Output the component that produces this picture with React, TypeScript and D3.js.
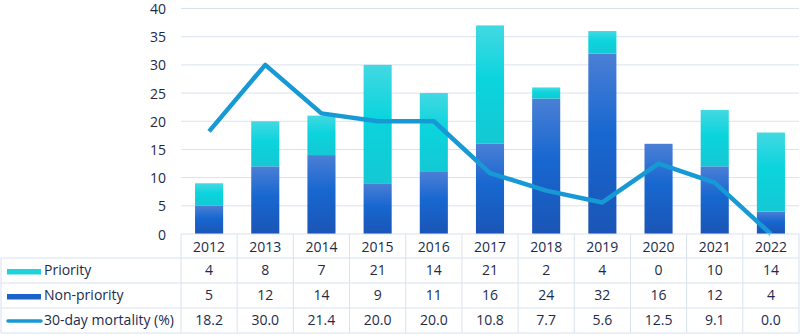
import React from "react";
import * as d3 from "d3";

// yearly case counts and mortality
const years = ["2012", "2013", "2014", "2015", "2016", "2017", "2018", "2019", "2020", "2021", "2022"];
const priority = [4, 8, 7, 21, 14, 21, 2, 4, 0, 10, 14];
const nonPriority = [5, 12, 14, 9, 11, 16, 24, 32, 16, 12, 4];
const mortality = [18.2, 30.0, 21.4, 20.0, 20.0, 10.8, 7.7, 5.6, 12.5, 9.1, 0.0];
const yTicks = [0, 5, 10, 15, 20, 25, 30, 35, 40];

const width = 800;
const height = 335;
const plotLeft = 181;
const plotRight = 799;
const plotTop = 8.5;
const plotBottom = 234;
const rowH = 25;
const headerBottom = 258;

const textColor = "#1c2b4c";
const gridColor = "#d8e2ef";
const lineColor = "#1799d6";
const font = "'Open Sans', sans-serif";
const fs = 14;

const App = () => {
  const x = d3.scaleBand().domain(years).range([plotLeft, plotRight]).paddingInner(0).paddingOuter(0);
  const y = d3.scaleLinear().domain([0, 40]).range([plotBottom, plotTop]);
  const barW = x.bandwidth() * 0.5;
  const cx = (yr: string) => (x(yr) as number) + x.bandwidth() / 2;

  const line = d3
    .line<number>()
    .x((_, i) => cx(years[i]))
    .y((d) => y(d));

  const rows = [
    { label: "Priority", values: priority.map(String), kind: "priority" },
    { label: "Non-priority", values: nonPriority.map(String), kind: "non" },
    { label: "30-day mortality (%)", values: mortality.map((d) => d.toFixed(1)), kind: "line" },
  ];
  const tableBottom = headerBottom + rows.length * rowH;

  return (
    <svg width={width} height={height} style={{ position: "absolute", left: 0, top: 0 }} fontFamily={font}>
      <defs>
        <linearGradient id="gNon" x1="0" y1="0" x2="0" y2="1">
          <stop offset="0%" stopColor="#4b7fd5" />
          <stop offset="45%" stopColor="#1767d0" />
          <stop offset="100%" stopColor="#1b55b6" />
        </linearGradient>
        <linearGradient id="gPri" x1="0" y1="0" x2="0" y2="1">
          <stop offset="0%" stopColor="#42d9e2" />
          <stop offset="45%" stopColor="#0bd4dd" />
          <stop offset="100%" stopColor="#14c8d3" />
        </linearGradient>
      </defs>

      {/* gridlines and y labels */}
      {yTicks.map((t) => (
        <g key={t}>
          {t > 0 && <line x1={plotLeft} x2={plotRight} y1={y(t)} y2={y(t)} stroke={gridColor} strokeWidth={1} />}
          <text x={166} y={y(t) + 1} dy="0.33em" textAnchor="end" fontSize={fs} fill={textColor}>
            {t}
          </text>
        </g>
      ))}

      {/* stacked bars */}
      {years.map((yr, i) => {
        const x0 = cx(yr) - barW / 2;
        const nTop = y(nonPriority[i]);
        const pTop = y(nonPriority[i] + priority[i]);
        return (
          <g key={yr}>
            <rect x={x0} y={nTop} width={barW} height={plotBottom - nTop} fill="url(#gNon)" />
            {priority[i] > 0 && <rect x={x0} y={pTop} width={barW} height={nTop - pTop} fill="url(#gPri)" />}
          </g>
        );
      })}

      <path d={line(mortality) || ""} fill="none" stroke={lineColor} strokeWidth={4.5} strokeLinejoin="round" />

      {/* data table */}
      <g stroke={gridColor} strokeWidth={1}>
        <line x1={plotLeft} x2={plotRight} y1={plotBottom} y2={plotBottom} />
        {[0, 1, 2, 3].map((r) => (
          <line key={r} x1={1} x2={plotRight} y1={headerBottom + r * rowH} y2={headerBottom + r * rowH} />
        ))}
        <line x1={1} x2={1} y1={headerBottom} y2={tableBottom} />
        {years.map((yr) => (
          <line key={yr} x1={x(yr)} x2={x(yr)} y1={plotBottom} y2={tableBottom} />
        ))}
        <line x1={plotRight} x2={plotRight} y1={plotBottom} y2={tableBottom} />
      </g>

      {years.map((yr) => (
        <text key={yr} x={cx(yr)} y={(plotBottom + headerBottom) / 2 + 1} dy="0.35em" textAnchor="middle" fontSize={fs} fill={textColor}>
          {yr}
        </text>
      ))}

      {rows.map((row, r) => {
        const my = headerBottom + r * rowH + rowH / 2;
        return (
          <g key={row.label}>
            {row.kind === "priority" && <rect x={7} y={my - 1.5} width={34} height={5.5} fill="#1fd3dc" />}
            {row.kind === "non" && <rect x={7} y={my - 1.5} width={34} height={5.5} fill="#1b62c9" />}
            {row.kind === "line" && (
              <line x1={8} x2={41} y1={my + 0.5} y2={my + 0.5} stroke={lineColor} strokeWidth={3.5} strokeLinecap="round" />
            )}
            <text x={44} y={my} dy="0.35em" fontSize={fs} fill={textColor}>
              {row.label}
            </text>
            {row.values.map((v, i) => (
              <text key={i} x={cx(years[i])} y={my} dy="0.35em" textAnchor="middle" fontSize={fs} fill={textColor}>
                {v}
              </text>
            ))}
          </g>
        );
      })}
    </svg>
  );
};

export default App;
